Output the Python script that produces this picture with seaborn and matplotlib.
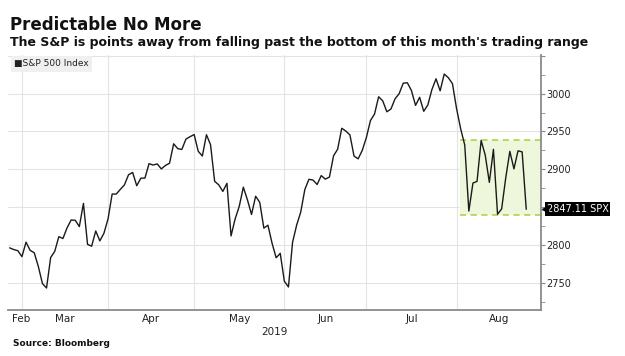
import numpy as np
import pandas as pd
import matplotlib
matplotlib.use("Agg")
import matplotlib.pyplot as plt
import matplotlib.transforms as mtransforms
from matplotlib.patches import Rectangle
import seaborn as sns

# S&P 500 closes, one per trading day, 25 Feb 2019 -> 23 Aug 2019
MONTHS = ["Feb", "Mar", "Apr", "May", "Jun", "Jul", "Aug"]
DAYS_PER_MONTH = [4, 21, 21, 22, 20, 22, 17]
SPX_CLOSE = [
    2796.11, 2793.90, 2792.38, 2784.49,
    2803.69, 2792.81, 2789.65, 2771.45, 2748.93, 2743.07, 2783.30, 2791.52, 2810.92, 2808.48,
    2822.48, 2832.94, 2832.57, 2824.23, 2854.88, 2800.71, 2798.36, 2818.46, 2805.37, 2815.44, 2834.40,
    2867.19, 2867.24, 2873.40, 2879.39, 2892.74, 2895.77, 2878.20, 2888.21, 2888.32, 2907.41,
    2905.58, 2907.06, 2900.45, 2905.03, 2907.97, 2933.68, 2927.25, 2926.17, 2939.88, 2943.03, 2945.83,
    2923.73, 2917.52, 2945.64, 2932.47, 2884.05, 2879.42, 2870.72, 2881.40, 2811.87, 2834.41, 2850.96,
    2876.32, 2859.53, 2840.23, 2864.36, 2856.27, 2822.24, 2826.06, 2802.39, 2783.02, 2788.86, 2752.06,
    2744.45, 2803.27, 2826.15, 2843.49, 2873.34, 2886.73, 2885.72, 2879.84, 2891.64, 2886.98,
    2889.67, 2917.75, 2926.46, 2954.18, 2950.46, 2945.35, 2917.38, 2913.78, 2924.92, 2941.76,
    2964.33, 2973.01, 2995.82, 2990.41, 2975.95, 2979.63, 2993.07, 2999.91, 3013.77, 3014.30, 3004.04,
    2984.42, 2995.11, 2976.61, 2985.03, 3005.47, 3019.56, 3003.67, 3025.86, 3020.97, 3013.18, 2980.38,
    2953.56, 2932.05, 2844.74, 2881.77, 2883.98, 2938.09, 2918.65, 2882.70, 2926.32, 2840.60, 2847.60,
    2888.68, 2923.65, 2900.51, 2924.43, 2922.95, 2847.11,
]
RANGE_LOW = 2840
RANGE_HIGH = 2939
Y_TICKS = [2750, 2800, 2850, 2900, 2950, 3000, 3050]
Y_TICK_LABELS = ["2750", "2800", "", "2900", "2950", "3000", ""]

df = pd.DataFrame({"day": np.arange(len(SPX_CLOSE)), "close": SPX_CLOSE})

# month boundaries sit on the last trading day of each month
month_ends = np.cumsum(DAYS_PER_MONTH) - 1
x_left, x_right = -0.4, len(SPX_CLOSE) + 2.6

sns.set_style("white")
plt.rcParams["font.family"] = ["DejaVu Sans"]

fig = plt.figure(figsize=(6.25, 3.56), dpi=100)
ax = fig.add_axes([8 / 625, 1 - 310 / 356, 533 / 625, 255 / 356])

# trading range highlight for August
aug_start = month_ends[-2] + 0.8
ax.add_patch(Rectangle((aug_start, RANGE_LOW), x_right - aug_start, RANGE_HIGH - RANGE_LOW,
                       facecolor="#eef6dc", edgecolor="none", zorder=1))
for level in (RANGE_LOW, RANGE_HIGH):
    ax.plot([aug_start, x_right], [level, level], color="#a9cf3b", lw=1.1,
            ls=(0, (4, 3)), zorder=2)

sns.lineplot(data=df, x="day", y="close", color="#1a1a1a", lw=1.0, ax=ax, zorder=3, legend=False)

ax.set_xlim(x_left, x_right)
ax.set_ylim(2714, 3051)

# gridlines
for xe in month_ends[:-1]:
    ax.axvline(xe, color="#e3e3e3", lw=0.8, zorder=0)
for yv in Y_TICKS:
    ax.axhline(yv, color="#e3e3e3", lw=0.8, zorder=0)

# x axis: ticks at month ends, labels centered in each month
ax.set_xticks(month_ends[:-1])
ax.set_xticklabels([])
bounds = [x_left] + list(month_ends[:-1]) + [x_right]
centers = [(a + b) / 2 for a, b in zip(bounds[:-1], bounds[1:])]
centers[0] = max(centers[0], x_left + 3.1)
ax.set_xticks(centers, minor=True)
ax.set_xticklabels(MONTHS, minor=True, fontsize=7.5, color="#222222")
ax.tick_params(axis="x", which="major", length=3, color="#888888", direction="out")
ax.tick_params(axis="x", which="minor", length=0, pad=3)
ax.set_xlabel("")
ax.text((x_left + x_right) / 2, -0.065, "2019", transform=ax.get_xaxis_transform(),
        ha="center", va="top", fontsize=7.5, color="#222222")

# y axis on the right
ax.yaxis.tick_right()
ax.set_yticks(Y_TICKS)
ax.set_yticklabels(Y_TICK_LABELS, fontsize=7, color="#222222")
ax.set_yticks(np.arange(2725, 3051, 50), minor=True)
ax.tick_params(axis="y", which="both", length=3, color="#888888", direction="out", pad=0.5)
ax.set_ylabel("")

for side in ["top", "left"]:
    ax.spines[side].set_visible(False)
for side in ["bottom", "right"]:
    ax.spines[side].set_color("#8a8a8a")
    ax.spines[side].set_linewidth(1.3)

# last value tag
last_val = SPX_CLOSE[-1]
ax.annotate(f"{last_val:.2f} SPX", xy=(1, last_val), xycoords=ax.get_yaxis_transform(),
            xytext=(4, 0), textcoords="offset points", ha="left", va="center",
            fontsize=7, color="white", zorder=6,
            bbox=dict(boxstyle="square,pad=0.2", fc="black", ec="none"))
tri = mtransforms.offset_copy(ax.get_yaxis_transform(), fig=fig, x=2.6, y=0, units="points")
ax.plot([1], [last_val], marker="<", ms=5, color="black", transform=tri, clip_on=False, zorder=6)

# legend tag
ax.text(0.012, 0.965, "\u25a0S&P 500 Index", transform=ax.transAxes, ha="left", va="center",
        fontsize=6.5, color="#222222",
        bbox=dict(boxstyle="square,pad=0.35", fc="#f0f0f0", ec="none"))

fig.text(10 / 625, 1 - 30 / 356, "Predictable No More", fontsize=12, fontweight="bold",
         color="#111111", va="baseline")
fig.text(10 / 625, 1 - 45.7 / 356, "The S&P is points away from falling past the bottom of this month's trading range",
         fontsize=9, fontweight="bold", color="#111111", va="baseline")
fig.text(13 / 625, 1 - 343 / 356, "Source: Bloomberg", fontsize=6.5, fontweight="bold",
         color="#111111", va="center")

fig.savefig("out.png", dpi=100, facecolor="white")
